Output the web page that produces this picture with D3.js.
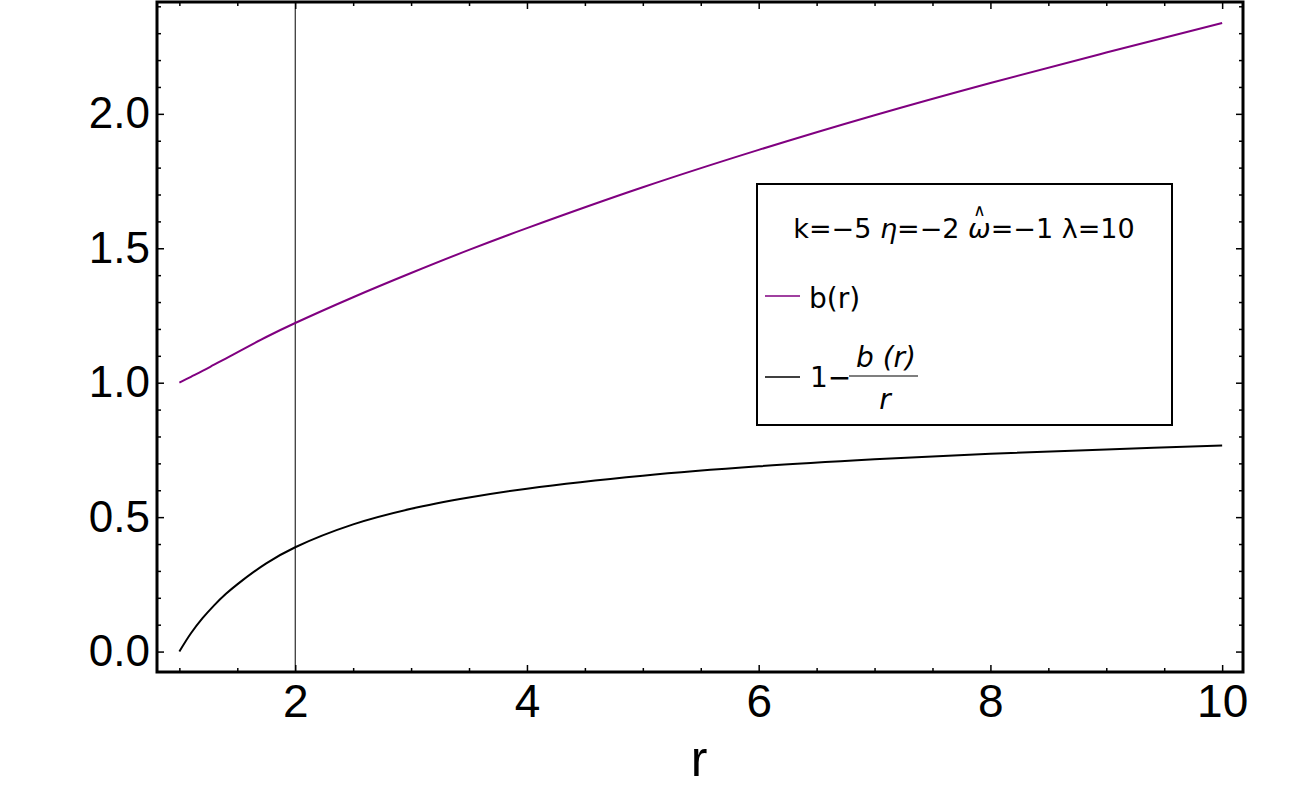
<!DOCTYPE html>
<html>
<head>
<meta charset="utf-8">
<script src="https://cdn.jsdelivr.net/npm/d3@7"></script>
<style>
  body { margin: 0; background: #fff; }
  svg { display: block; }
  .tick text { font-family: "Liberation Sans", Arial, sans-serif; fill: #000; }
  .tick line { stroke: #000; stroke-width: 1.5; }
  .legend text { font-family: "DejaVu Sans", sans-serif; fill: #000; }
</style>
</head>
<body>
<svg width="1300" height="812"></svg>
<script>
// values
var rVals = [1, 1.1, 1.2, 1.3, 1.4, 1.5, 1.75, 2, 2.5, 3, 3.5, 4, 5, 6, 7, 8, 9, 10];
var bVals = [1.0, 1.022, 1.044, 1.067, 1.09, 1.113, 1.17, 1.222, 1.318, 1.408, 1.494, 1.575, 1.727, 1.866, 1.995, 2.115, 2.228, 2.338];
var gVals = [0, 0.068, 0.124, 0.172, 0.214, 0.25, 0.328, 0.388, 0.473, 0.531, 0.573, 0.606, 0.654, 0.689, 0.715, 0.736, 0.752, 0.766];

var xMajor = [2, 4, 6, 8, 10];
var xMinor = [1, 1.5, 2.5, 3, 3.5, 4.5, 5, 5.5, 6.5, 7, 7.5, 8.5, 9, 9.5];
var yMajor = [0, 0.5, 1.0, 1.5, 2.0];
var yMinor = [0.1, 0.2, 0.3, 0.4, 0.6, 0.7, 0.8, 0.9, 1.1, 1.2, 1.3, 1.4, 1.6, 1.7, 1.8, 1.9, 2.1, 2.2, 2.3, 2.4];
var markerR = 2;

var svg = d3.select("svg");
var pLeft = 157, pRight = 1243, pTop = 2, pBottom = 672;

var x = d3.scaleLinear().domain([0.807, 10.18]).range([pLeft, pRight]);
var y = d3.scaleLinear().domain([-0.076, 2.416]).range([pBottom, pTop]);

function series(vals) {
  return rVals.map(function(r, i) { return [r, vals[i]]; });
}

var line = d3.line()
  .x(function(d) { return x(d[0]); })
  .y(function(d) { return y(d[1]); })
  .curve(d3.curveCatmullRom);

// vertical marker line at r = 2
svg.append("line")
  .attr("x1", x(markerR)).attr("x2", x(markerR))
  .attr("y1", pTop).attr("y2", pBottom)
  .attr("stroke", "#000").attr("stroke-width", 1);

svg.append("path")
  .attr("d", line(series(bVals)))
  .attr("fill", "none").attr("stroke", "#800080").attr("stroke-width", 2);

svg.append("path")
  .attr("d", line(series(gVals)))
  .attr("fill", "none").attr("stroke", "#000").attr("stroke-width", 2);

// axes: ticks point inward, mirrored on top/right
function drawAxis(axis, tx, ty, fontSize) {
  var g = svg.append("g").attr("transform", "translate(" + tx + "," + ty + ")").call(axis);
  g.select(".domain").remove();
  g.selectAll("text").style("font-size", fontSize + "px");
  return g;
}

drawAxis(d3.axisBottom(x).tickValues(xMajor).tickSize(-7).tickPadding(12).tickFormat(d3.format("d")), 0, pBottom, 46);
drawAxis(d3.axisBottom(x).tickValues(xMinor).tickSize(-4).tickFormat(""), 0, pBottom, 0);
drawAxis(d3.axisTop(x).tickValues(xMajor).tickSize(-7).tickFormat(""), 0, pTop, 0);
drawAxis(d3.axisTop(x).tickValues(xMinor).tickSize(-4).tickFormat(""), 0, pTop, 0);

drawAxis(d3.axisLeft(y).tickValues(yMajor).tickSize(-7).tickPadding(7).tickFormat(d3.format(".1f")), pLeft, 0, 44);
drawAxis(d3.axisLeft(y).tickValues(yMinor).tickSize(-4).tickFormat(""), pLeft, 0, 0);
drawAxis(d3.axisRight(y).tickValues(yMajor).tickSize(-7).tickFormat(""), pRight, 0, 0);
drawAxis(d3.axisRight(y).tickValues(yMinor).tickSize(-4).tickFormat(""), pRight, 0, 0);

// frame
svg.append("rect")
  .attr("x", pLeft).attr("y", pTop)
  .attr("width", pRight - pLeft).attr("height", pBottom - pTop)
  .attr("fill", "none").attr("stroke", "#000").attr("stroke-width", 3);

svg.append("text")
  .attr("x", (pLeft + pRight) / 2 - 1).attr("y", 776)
  .attr("text-anchor", "middle")
  .style("font-family", "'Liberation Sans', Arial, sans-serif")
  .style("font-size", "50px")
  .text("r");

// legend
var lg = svg.append("g").attr("class", "legend");
lg.append("rect")
  .attr("x", 757).attr("y", 184).attr("width", 415).attr("height", 241)
  .attr("fill", "#fff").attr("stroke", "#000").attr("stroke-width", 2);

var title = lg.append("text")
  .attr("x", 964).attr("y", 238)
  .attr("text-anchor", "middle")
  .style("font-size", "27px");
title.append("tspan").text("k=\u22125 ");
title.append("tspan").style("font-style", "italic").text("\u03B7");
title.append("tspan").text("=\u22122 ");
title.append("tspan").style("font-style", "italic").text("\u03C9");
title.append("tspan").text("=\u22121 ");
title.append("tspan").text("\u03BB");
title.append("tspan").text("=10");

// hat above omega
var idx = "k=\u22125 \u03B7=\u22122 ".length;
var box = title.node().getExtentOfChar(idx);
lg.append("text")
  .attr("x", box.x + box.width / 2).attr("y", box.y + 3)
  .attr("text-anchor", "middle")
  .style("font-size", "17px")
  .text("\u2227");

lg.append("line")
  .attr("x1", 765).attr("x2", 800).attr("y1", 296).attr("y2", 296)
  .attr("stroke", "#800080").attr("stroke-width", 1.5);
lg.append("text")
  .attr("x", 809).attr("y", 308)
  .style("font-size", "28px")
  .text("b(r)");

lg.append("line")
  .attr("x1", 765).attr("x2", 800).attr("y1", 377).attr("y2", 377)
  .attr("stroke", "#000").attr("stroke-width", 1.5);
lg.append("text")
  .attr("x", 810).attr("y", 387)
  .style("font-size", "28px")
  .text("1\u2212");
lg.append("text")
  .attr("x", 886).attr("y", 367)
  .attr("text-anchor", "middle")
  .style("font-size", "28px").style("font-style", "italic")
  .text("b (r)");
lg.append("line")
  .attr("x1", 849).attr("x2", 918).attr("y1", 376).attr("y2", 376)
  .attr("stroke", "#000").attr("stroke-width", 1.2);
lg.append("text")
  .attr("x", 885).attr("y", 409)
  .attr("text-anchor", "middle")
  .style("font-size", "28px").style("font-style", "italic")
  .text("r");
</script>
</body>
</html>
